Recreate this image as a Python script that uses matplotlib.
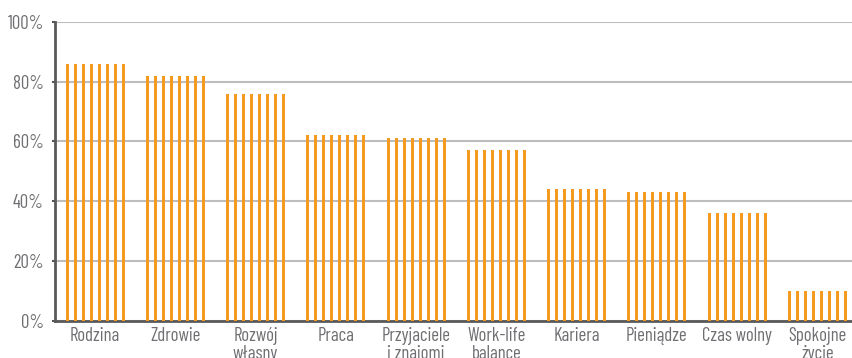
import matplotlib
matplotlib.use("Agg")
import matplotlib.pyplot as plt
from matplotlib import font_manager as fm
import numpy as np

categories = ["Rodzina", "Zdrowie", "Rozwój\nwłasny", "Praca", "Przyjaciele\ni znajomi",
              "Work-life\nbalance", "Kariera", "Pieniądze", "Czas wolny", "Spokojne\nżycie"]
values = [86, 82, 76, 62, 61, 57, 44, 43, 36, 10]
yticks = [0, 20, 40, 60, 80, 100]
ytick_labels = ["0%", "20%", "40%", "60%", "80%", "100%"]

names = set(f.name for f in fm.fontManager.ttflist)
pref = ["Barlow Condensed", "Roboto Condensed", "PT Sans Narrow", "Archivo Narrow", "DejaVu Sans"]
fam = next(p for p in pref if p in names)

TXT = "#6f6f73"
ORANGE = "#f39a1f"

fig = plt.figure(figsize=(8.53, 3.58), dpi=100)
ax = fig.add_axes([55/853, 37.5/358, 798/853, 298.5/358])

x = np.arange(len(categories))
nstripes = 8
pitch = 0.1
sw = 0.038
for k in range(nstripes):
    off = (k - (nstripes - 1) / 2) * pitch
    ax.bar(x + off, values, width=sw, color=ORANGE, zorder=3, linewidth=0)

ax.set_ylim(0, 100)
ax.set_xlim(-0.5, 9.444)
ax.set_yticks(yticks)
ax.set_yticklabels(ytick_labels)
ax.set_xticks(x)
ax.set_xticklabels(categories, linespacing=1.0)
for lab in ax.get_xticklabels() + ax.get_yticklabels():
    lab.set_fontfamily(fam)
    lab.set_fontsize(13.5)
    lab.set_color(TXT)
ax.tick_params(axis="x", length=0, pad=5)
ax.tick_params(axis="y", length=2, width=1.5, color="#555555", pad=6)
ax.grid(axis="y", color="#bdbdbd", linewidth=1.5, zorder=0)
ax.set_axisbelow(True)
for s in ["top", "right"]:
    ax.spines[s].set_visible(False)
ax.spines["left"].set_color("#5a5a5a")
ax.spines["left"].set_linewidth(2)
ax.spines["bottom"].set_color("#5a5a5a")
ax.spines["bottom"].set_linewidth(2)

fig.savefig("out.png", dpi=100)
